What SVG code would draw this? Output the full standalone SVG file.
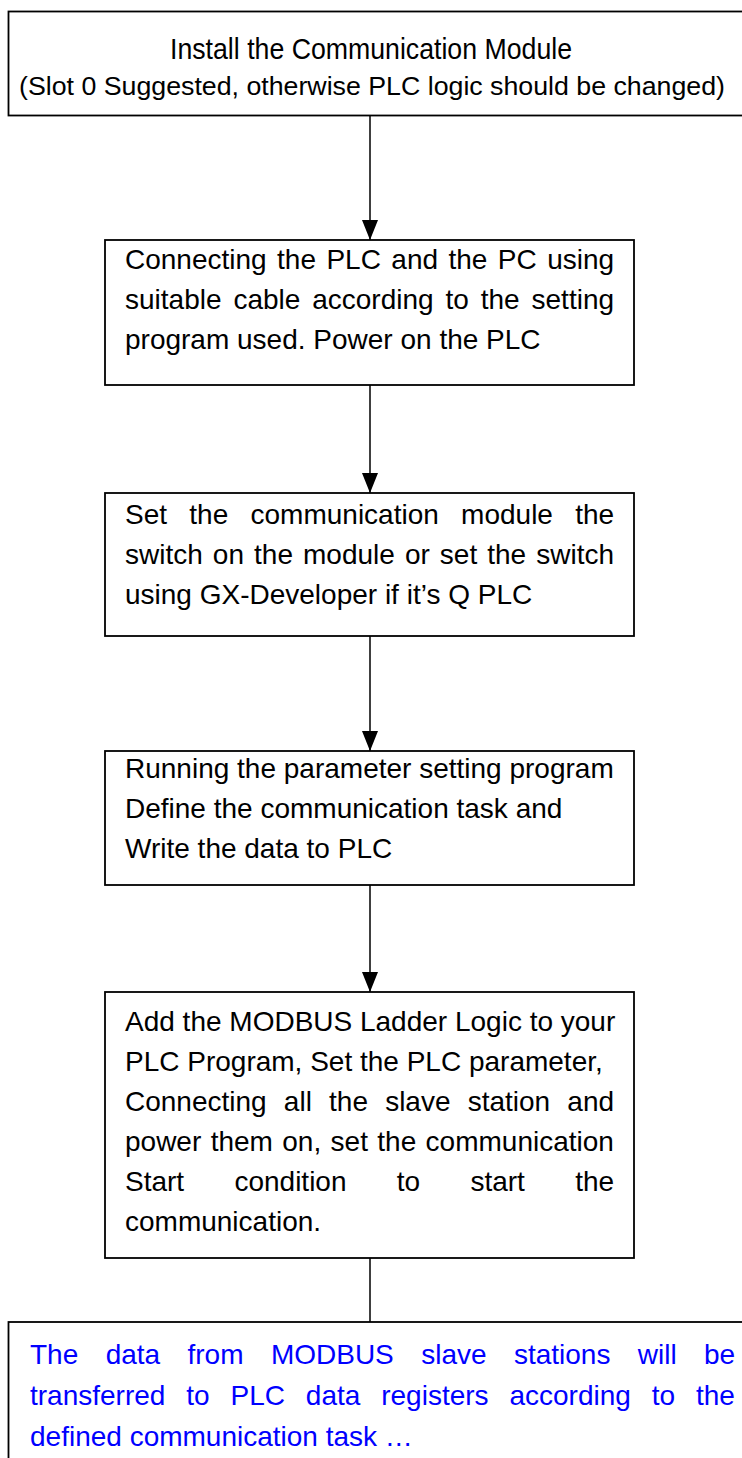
<svg xmlns="http://www.w3.org/2000/svg" width="742" height="1458" viewBox="0 0 742 1458">
<style>
.box{fill:#fff;stroke:#000;stroke-width:1.8}
.t{font-family:"Liberation Sans",Arial,sans-serif;font-size:28px;fill:#000}
.tt{font-family:"Liberation Sans",Arial,sans-serif;fill:#000;text-anchor:middle}
.b{font-family:"Liberation Sans",Arial,sans-serif;font-size:28px;fill:#0000ff}
.c{stroke:#000;stroke-width:1.5;fill:none}
</style>
<defs>
<marker id="ah" markerWidth="20" markerHeight="16" refX="20" refY="8" orient="auto" markerUnits="userSpaceOnUse" viewBox="0 0 20 16">
<path d="M0,0 L20,8 L0,16 Z" fill="#000"/>
</marker>
</defs>
<rect width="742" height="1458" fill="#fff"/>
<g id="connectors">
<line class="c" x1="370" y1="115" x2="370" y2="240" marker-end="url(#ah)"/>
<line class="c" x1="370" y1="385" x2="370" y2="493" marker-end="url(#ah)"/>
<line class="c" x1="370" y1="636" x2="370" y2="751" marker-end="url(#ah)"/>
<line class="c" x1="370" y1="885" x2="370" y2="992" marker-end="url(#ah)"/>
<line class="c" x1="370" y1="1258" x2="370" y2="1322"/>
</g>
<g id="n1">
<rect class="box" x="8.5" y="11.5" width="745" height="104"/>
<text class="tt" x="371" y="59" font-size="29" textLength="402" lengthAdjust="spacingAndGlyphs">Install the Communication Module</text>
<text class="tt" x="372" y="95" font-size="26.6" textLength="706" lengthAdjust="spacingAndGlyphs">(Slot 0 Suggested, otherwise PLC logic should be changed)</text>
</g>
<g id="n2">
<rect class="box" x="105" y="240" width="529" height="145"/>
<text class="t" x="125" y="269" word-spacing="2.65">Connecting the PLC and the PC using</text>
<text class="t" x="125" y="309" word-spacing="4.1">suitable cable according to the setting</text>
<text class="t" x="125" y="349">program used. Power on the PLC</text>
</g>
<g id="n3">
<rect class="box" x="105" y="493" width="529" height="143"/>
<text class="t" x="125" y="524" word-spacing="14.5">Set the communication module the</text>
<text class="t" x="125" y="564" word-spacing="2.27">switch on the module or set the switch</text>
<text class="t" x="125" y="604">using GX-Developer if it’s Q PLC</text>
</g>
<g id="n4">
<rect class="box" x="105" y="751" width="529" height="134"/>
<text class="t" x="125" y="778">Running the parameter setting program</text>
<text class="t" x="125" y="818">Define the communication task and</text>
<text class="t" x="125" y="858">Write the data to PLC</text>
</g>
<g id="n5">
<rect class="box" x="105" y="992" width="529" height="266"/>
<text class="t" x="125" y="1031">Add the MODBUS Ladder Logic to your</text>
<text class="t" x="125" y="1071">PLC Program, Set the PLC parameter,</text>
<text class="t" x="125" y="1111" word-spacing="9.4">Connecting all the slave station and</text>
<text class="t" x="125" y="1151" word-spacing="1.6">power them on, set the communication</text>
<text class="t" x="125" y="1191" word-spacing="42.5">Start condition to start the</text>
<text class="t" x="125" y="1231">communication.</text>
</g>
<g id="n6">
<rect class="box" x="8.5" y="1322" width="745" height="160"/>
<text class="b" x="30" y="1364" word-spacing="19.6">The data from MODBUS slave stations will be</text>
<text class="b" x="30" y="1405" word-spacing="13.1">transferred to PLC data registers according to the</text>
<text class="b" x="30" y="1446">defined communication task …</text>
</g>
</svg>
